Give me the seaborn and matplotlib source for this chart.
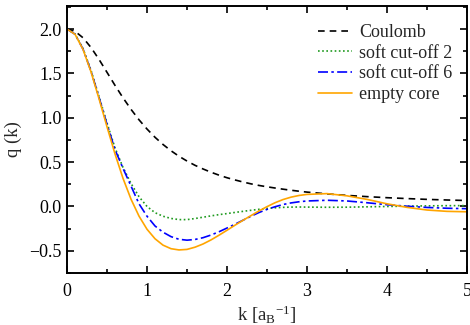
import numpy as np
import pandas as pd
import seaborn as sns
import matplotlib.pyplot as plt
from matplotlib.ticker import MultipleLocator

# wave vector grid
k = [0.0, 0.1, 0.2, 0.3, 0.4, 0.5, 0.6, 0.7, 0.8, 0.9,
     1.0, 1.1, 1.2, 1.3, 1.4, 1.5, 1.6, 1.7, 1.8, 1.9,
     2.0, 2.1, 2.2, 2.3, 2.4, 2.5, 2.6, 2.7, 2.8, 2.9,
     3.0, 3.25, 3.5, 3.75, 4.0, 4.25, 4.5, 4.75, 5.0]

coulomb = [2.0, 1.975, 1.902, 1.792, 1.658, 1.512, 1.365, 1.225, 1.095, 0.977,
           0.873, 0.780, 0.699, 0.628, 0.566, 0.512, 0.464, 0.423, 0.386, 0.353,
           0.324, 0.299, 0.276, 0.255, 0.237, 0.222, 0.208, 0.195, 0.183, 0.172,
           0.162, 0.142, 0.125, 0.111, 0.099, 0.089, 0.080, 0.073, 0.067]

soft2 = [2.0, 1.945, 1.78, 1.535, 1.24, 0.94, 0.66, 0.44, 0.26, 0.11,
         0.0, -0.07, -0.11, -0.135, -0.148, -0.148, -0.136, -0.121, -0.106, -0.092,
         -0.08, -0.067, -0.055, -0.043, -0.032, -0.022, -0.015, -0.010, -0.007, -0.006,
         -0.007, -0.009, -0.008, -0.004, 0.0, 0.004, 0.007, 0.009, 0.010]

soft6 = [2.0, 1.942, 1.775, 1.525, 1.23, 0.925, 0.64, 0.43, 0.23, 0.03,
         -0.11, -0.22, -0.29, -0.34, -0.37, -0.38, -0.372, -0.352, -0.322, -0.285,
         -0.243, -0.20, -0.155, -0.11, -0.068, -0.033, -0.003, 0.022, 0.040, 0.053,
         0.062, 0.070, 0.062, 0.042, 0.020, 0.003, -0.011, -0.020, -0.025]

empty_core = [2.0, 1.941, 1.771, 1.517, 1.215, 0.898, 0.592, 0.317, 0.082, -0.109,
              -0.257, -0.364, -0.436, -0.476, -0.490, -0.484, -0.459, -0.423, -0.377, -0.324,
              -0.268, -0.211, -0.156, -0.103, -0.050, -0.002, 0.042, 0.078, 0.105, 0.124,
              0.136, 0.145, 0.120, 0.080, 0.030, -0.010, -0.040, -0.055, -0.060]

labels = ['Coulomb', 'soft cut-off 2', 'soft cut-off 6', 'empty core']

df = pd.DataFrame({'k': k * 4,
                   'q': coulomb + soft2 + soft6 + empty_core,
                   'model': np.repeat(labels, len(k))})

sns.set_style('ticks')
plt.rcParams['font.family'] = ['Liberation Serif', 'DejaVu Serif']
plt.rcParams['mathtext.fontset'] = 'custom'
plt.rcParams['mathtext.rm'] = 'Liberation Serif'
plt.rcParams['mathtext.it'] = 'Liberation Serif:italic'

fig = plt.figure(figsize=(4.7, 3.25), dpi=100)
ax = fig.add_axes([0.1426, 0.16, 0.851, 0.8215])

palette = {'Coulomb': 'black', 'soft cut-off 2': '#1f9a1f',
           'soft cut-off 6': '#0000ff', 'empty core': '#ffa500'}
dashes = {'Coulomb': (4, 3), 'soft cut-off 2': (1, 1.5),
          'soft cut-off 6': (6, 2, 1.5, 2), 'empty core': ''}

sns.lineplot(data=df, x='k', y='q', hue='model', style='model',
             palette=palette, dashes=dashes, hue_order=labels,
             style_order=labels, linewidth=1.2, ax=ax)

ax.set_xlim(0, 5)
ax.set_ylim(-0.75, 2.26)
ax.xaxis.set_major_locator(MultipleLocator(1))
ax.xaxis.set_minor_locator(MultipleLocator(0.5))
ax.yaxis.set_major_locator(MultipleLocator(0.5))
ax.yaxis.set_minor_locator(MultipleLocator(0.25))
ax.tick_params(which='both', direction='in', top=True, right=True,
               width=1.2, labelsize=13, colors='black')
ax.tick_params(which='major', length=5)
ax.tick_params(axis='x', which='major', pad=7)
ax.tick_params(axis='y', which='major', pad=4)
ax.tick_params(which='minor', length=3)
for s in ax.spines.values():
    s.set_linewidth(1.4)
    s.set_color('black')

ax.set_xlabel(r'k [a$_\mathrm{B}$$^{\mathrm{-1}}$]', fontsize=13.5, labelpad=3)
ax.set_ylabel('q (k)', fontsize=13.5, labelpad=5)

leg = ax.legend(loc='upper right', frameon=False, fontsize=13,
                handlelength=1.9, handletextpad=0.4, labelspacing=0.2,
                borderaxespad=0.3, bbox_to_anchor=(0.995, 0.98))

fig.savefig('out.png', dpi=100)
